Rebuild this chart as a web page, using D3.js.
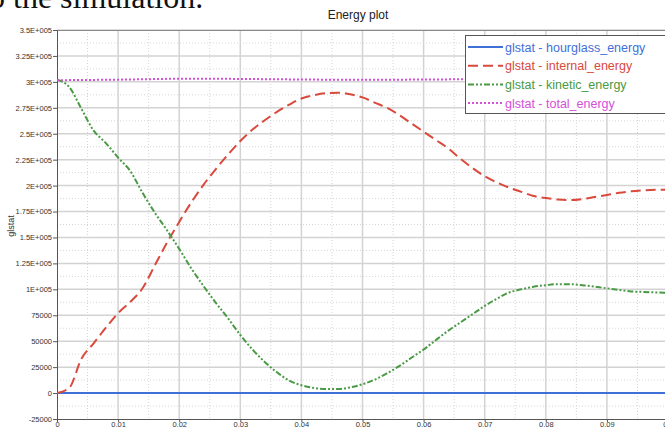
<!DOCTYPE html>
<html>
<head>
<meta charset="utf-8">
<script src="https://cdn.jsdelivr.net/npm/d3@7"></script>
<style>
  body { margin: 0; background: #fff; overflow: hidden; }
  svg { display: block; font-family: Arial, "Liberation Sans", sans-serif; }
</style>
</head>
<body>
<div id="chart"></div>
<script>
// time axis (s)
var time = [0, 0.002, 0.004, 0.006, 0.008, 0.01, 0.012, 0.014, 0.016, 0.018,
            0.02, 0.022, 0.024, 0.026, 0.028, 0.03, 0.032, 0.034, 0.036, 0.038,
            0.04, 0.042, 0.044, 0.046, 0.048, 0.05, 0.052, 0.054, 0.056, 0.058,
            0.06, 0.062, 0.064, 0.066, 0.068, 0.07, 0.072, 0.074, 0.076, 0.078,
            0.08, 0.082, 0.084, 0.086, 0.088, 0.09, 0.092, 0.094, 0.096, 0.098, 0.1];

// energies, in thousands
var hourglass = [0,0,0,0,0,0,0,0,0,0, 0,0,0,0,0,0,0,0,0,0, 0,0,0,0,0,0,0,0,0,0,
                 0,0,0,0,0,0,0,0,0,0, 0,0,0,0,0,0,0,0,0,0, 0];
var internal = [0, 5, 33, 48, 63, 77, 88, 101, 123, 145,
                165, 184, 201, 216, 230, 243, 254, 263, 271, 278,
                284, 287, 289, 289.5, 288, 285, 280, 275, 268, 260,
                252, 244, 236, 226, 217, 209, 203, 198, 194, 190,
                188, 186.5, 186, 187, 189, 191, 193, 194.5, 195.5, 196, 196];
var kinetic = [302, 295, 274, 253, 241, 227, 214, 193, 174, 157,
               139, 120, 103, 87, 72, 56, 42, 30, 20, 12,
               7.5, 5, 4, 4, 5.5, 8.5, 13, 19, 26, 34,
               42, 51, 60, 68, 76, 84, 91, 97, 100, 102.5,
               104, 105, 105, 104, 102.5, 101, 99.5, 98, 97.5, 97, 96.5];
var total = [301.5, 301.7, 301.8, 301.9, 302, 302.1, 302.3, 302.5, 302.7, 302.9,
             303, 303, 303, 302.9, 302.9, 302.8, 302.7, 302.6, 302.5, 302.4,
             302.3, 302.2, 302.1, 302.1, 302, 302, 302, 302.1, 302.1, 302.2,
             302.2, 302.3, 302.4, 302.5, 302.6, 302.7, 302.8, 302.9, 302.9, 303,
             303, 303, 302.9, 302.9, 302.8, 302.8, 302.7, 302.7, 302.6, 302.6, 302.6];

var seriesNames = ["glstat - hourglass_energy", "glstat - internal_energy",
                   "glstat - kinetic_energy", "glstat - total_energy"];
var seriesValues = [hourglass, internal, kinetic, total];
var seriesColors = ["#3f70d8", "#d9493c", "#4a9a45", "#d64fd9"];
var seriesDash = [null, "10,5", "6,2,2,2,2,2", "2,2"];

var xTicks = [0, 0.01, 0.02, 0.03, 0.04, 0.05, 0.06, 0.07, 0.08, 0.09, 0.1];
var xTickLabels = ["0", "0.01", "0.02", "0.03", "0.04", "0.05", "0.06", "0.07", "0.08", "0.09", "0.1"];
var yTicks = [-25000, 0, 25000, 50000, 75000, 100000, 125000, 150000, 175000,
              200000, 225000, 250000, 275000, 300000, 325000, 350000];
var yTickLabels = ["-25000", "0", "25000", "50000", "75000", "1E+005", "1.25E+005",
                   "1.5E+005", "1.75E+005", "2E+005", "2.25E+005", "2.5E+005",
                   "2.75E+005", "3E+005", "3.25E+005", "3.5E+005"];

var W = 665, H = 430;
var margin = {top: 30, left: 57},
    width = 611,
    height = 389;

var svg = d3.select("#chart").append("svg")
    .attr("width", W)
    .attr("height", H);

// cropped document text at the top
svg.append("text")
   .attr("x", -11)
   .attr("y", 8)
   .style("font-family", "'Liberation Serif', 'Times New Roman', serif")
   .style("font-size", "32px")
   .attr("fill", "#111")
   .text("o the simulation.");

svg.append("text")
   .attr("x", 358)
   .attr("y", 19)
   .attr("text-anchor", "middle")
   .style("font-size", "12px")
   .attr("fill", "#222")
   .text("Energy plot");

var g = svg.append("g")
    .attr("transform", "translate(" + margin.left + "," + margin.top + ")");

var x = d3.scaleLinear().domain([0, 0.1]).range([0, width]);
var y = d3.scaleLinear().domain([-25000, 350000]).range([height, 0]);

// minor grid (dotted)
var xMinor = d3.range(0.005, 0.1, 0.01);
var yMinor = d3.range(-12500, 350000, 25000);
g.selectAll(".xminor").data(xMinor).enter().append("line")
  .attr("x1", function(d) { return x(d); }).attr("x2", function(d) { return x(d); })
  .attr("y1", 0).attr("y2", height)
  .attr("stroke", "#d6d6d6").attr("stroke-dasharray", "1,2");
g.selectAll(".yminor").data(yMinor).enter().append("line")
  .attr("y1", function(d) { return y(d); }).attr("y2", function(d) { return y(d); })
  .attr("x1", 0).attr("x2", width)
  .attr("stroke", "#d6d6d6").attr("stroke-dasharray", "1,2");

// major grid
g.selectAll(".xmajor").data(xTicks.slice(1)).enter().append("line")
  .attr("x1", function(d) { return x(d); }).attr("x2", function(d) { return x(d); })
  .attr("y1", 0).attr("y2", height)
  .attr("stroke", "#d3d3d3").attr("stroke-width", 1.5);
g.selectAll(".ymajor").data(yTicks.slice(1)).enter().append("line")
  .attr("y1", function(d) { return y(d); }).attr("y2", function(d) { return y(d); })
  .attr("x1", 0).attr("x2", width)
  .attr("stroke", "#d3d3d3").attr("stroke-width", 1.5);

// top border
g.append("line").attr("x1", 0).attr("x2", width).attr("y1", 0.5).attr("y2", 0.5)
  .attr("stroke", "#8a8a8a");

// axes
var xAxis = g.append("g")
    .attr("transform", "translate(0," + height + ")")
    .call(d3.axisBottom(x).tickValues(xTicks)
          .tickFormat(function(d, i) { return xTickLabels[i]; })
          .tickSizeOuter(0).tickSize(3));
var yAxis = g.append("g")
    .call(d3.axisLeft(y).tickValues(yTicks)
          .tickFormat(function(d, i) { return yTickLabels[i]; })
          .tickSizeOuter(0).tickSize(4));
[xAxis, yAxis].forEach(function(a) {
  a.select(".domain").attr("stroke", "#555");
  a.selectAll(".tick line").attr("stroke", "#555");
  a.selectAll(".tick text").attr("fill", "#333")
   .style("font-size", "7.5px").style("font-family", "Arial, 'Liberation Sans', sans-serif");
});
yAxis.selectAll(".tick text").attr("x", -5);
xAxis.selectAll(".tick text").attr("y", 3);

// y label
svg.append("text")
   .attr("transform", "translate(14,226) rotate(-90)")
   .attr("text-anchor", "middle")
   .style("font-size", "9px")
   .attr("fill", "#333")
   .text("glstat");

// lines
g.append("clipPath").attr("id", "clip").append("rect")
  .attr("x", 0).attr("y", 0).attr("width", width).attr("height", height);

var line = d3.line()
    .x(function(d, i) { return x(time[i]); })
    .y(function(d) { return y(d * 1000); })
    .curve(d3.curveMonotoneX);

var lines = g.append("g").attr("clip-path", "url(#clip)");
seriesValues.forEach(function(vals, k) {
  lines.append("path")
    .datum(vals)
    .attr("d", line)
    .attr("fill", "none")
    .attr("stroke", seriesColors[k])
    .attr("stroke-width", 2)
    .attr("stroke-dasharray", seriesDash[k]);
});

// legend
var legend = svg.append("g").attr("transform", "translate(465,35)");
legend.append("rect")
  .attr("x", 0.5).attr("y", 0.5).attr("width", 215).attr("height", 78)
  .attr("fill", "#fff").attr("stroke", "#555");
seriesNames.forEach(function(name, k) {
  var ly = 12 + k * 18.7;
  legend.append("line")
    .attr("x1", 3).attr("x2", 38).attr("y1", ly).attr("y2", ly)
    .attr("stroke", seriesColors[k]).attr("stroke-width", 2)
    .attr("stroke-dasharray", seriesDash[k]);
  legend.append("text")
    .attr("x", 40).attr("y", ly + 4.5)
    .style("font-size", "12.5px")
    .attr("fill", seriesColors[k])
    .text(name);
});
</script>
</body>
</html>
